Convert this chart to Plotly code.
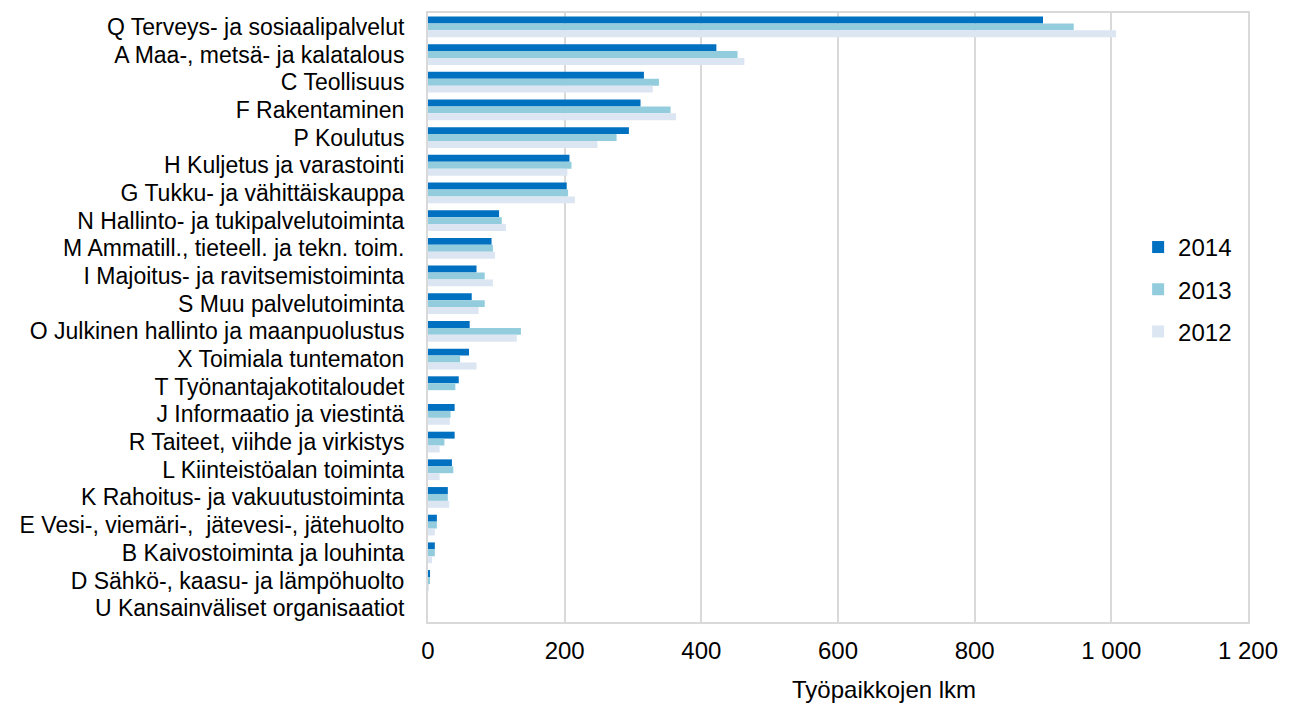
import plotly.graph_objects as go

categories = [
    "Q Terveys- ja sosiaalipalvelut",
    "A Maa-, metsä- ja kalatalous",
    "C Teollisuus",
    "F Rakentaminen",
    "P Koulutus",
    "H Kuljetus ja varastointi",
    "G Tukku- ja vähittäiskauppa",
    "N Hallinto- ja tukipalvelutoiminta",
    "M Ammatill., tieteell. ja tekn. toim.",
    "I Majoitus- ja ravitsemistoiminta",
    "S Muu palvelutoiminta",
    "O Julkinen hallinto ja maanpuolustus",
    "X Toimiala tuntematon",
    "T Työnantajakotitaloudet",
    "J Informaatio ja viestintä",
    "R Taiteet, viihde ja virkistys",
    "L Kiinteistöalan toiminta",
    "K Rahoitus- ja vakuutustoiminta",
    "E Vesi-, viemäri-,  jätevesi-, jätehuolto",
    "B Kaivostoiminta ja louhinta",
    "D Sähkö-, kaasu- ja lämpöhuolto",
    "U Kansainväliset organisaatiot",
]

v2014 = [900, 422, 316, 311, 294, 207, 203, 104, 93, 71, 64, 61, 60, 45, 39, 39, 35, 29, 13, 10, 3, 0]
v2013 = [945, 453, 338, 355, 276, 210, 205, 108, 95, 83, 83, 136, 47, 40, 33, 24, 37, 29, 13, 10, 2, 0]
v2012 = [1007, 463, 329, 363, 248, 204, 215, 114, 98, 95, 74, 130, 71, 0, 32, 17, 17, 31, 10, 6, 1, 0]

x_ticks = [0, 200, 400, 600, 800, 1000, 1200]
x_tick_labels = ["0", "200", "400", "600", "800", "1 000", "1 200"]
x_title = "Työpaikkojen lkm"

series = [
    ("2014", v2014, "#0070C0"),
    ("2013", v2013, "#93CDDD"),
    ("2012", v2012, "#DCE6F2"),
]

fig = go.Figure()
for name, vals, color in series:
    fig.add_trace(go.Bar(
        y=categories, x=vals, name=name, orientation="h",
        marker=dict(color=color, line=dict(width=0)),
        legendgroup=name,
    ))

fig.update_layout(
    width=1283, height=696,
    margin=dict(l=420, r=43, t=3, b=82),
    paper_bgcolor="white", plot_bgcolor="white",
    barmode="group", bargap=0.25, bargroupgap=0,
    font=dict(family="Liberation Sans, Arial, sans-serif", size=24, color="#000000"),
    legend=dict(
        x=0.866, y=0.652, xanchor="left", yanchor="top",
        font=dict(size=24), tracegroupgap=8,
        bgcolor="rgba(0,0,0,0)", itemwidth=30,
    ),
    showlegend=True,
    annotations=[dict(
        text=x_title, xref="paper", yref="paper", x=0.556, y=-0.111,
        xanchor="center", yanchor="middle", showarrow=False, font=dict(size=24),
    )],
)
fig.update_xaxes(
    range=[0, 1200], tickvals=x_ticks, ticktext=x_tick_labels,
    showgrid=True, gridcolor="#D9D9D9", gridwidth=1.5,
    zeroline=False, showline=True, linecolor="#D9D9D9", linewidth=1.5, mirror=True,
    ticks="", tickfont=dict(size=24), ticklabelstandoff=6,
)
fig.update_yaxes(
    autorange="reversed", categoryorder="array", categoryarray=categories,
    tickmode="array", tickvals=categories, ticktext=categories,
    showline=True, linecolor="#D9D9D9", linewidth=2, mirror=True,
    ticks="", tickfont=dict(size=23), ticklabelstandoff=17,
    showgrid=False, automargin=False,
)

fig.write_html("out.html")
